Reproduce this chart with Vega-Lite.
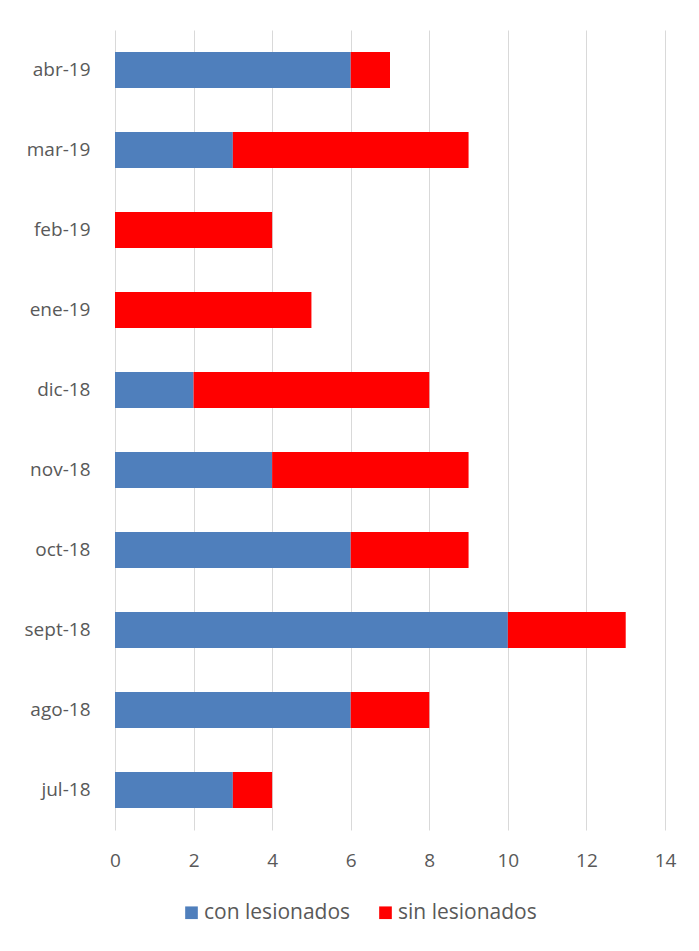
{
  "$schema": "https://vega.github.io/schema/vega-lite/v6.json",
  "autosize": "none",
  "width": 550,
  "height": 800,
  "padding": {"left": 115, "top": 30, "right": 34, "bottom": 121},
  "background": "white",
  "data": {
    "values": [
      {"mes": "abr-19", "tipo": "con lesionados", "n": 6, "o": 1},
      {"mes": "abr-19", "tipo": "sin lesionados", "n": 1, "o": 2},
      {"mes": "mar-19", "tipo": "con lesionados", "n": 3, "o": 1},
      {"mes": "mar-19", "tipo": "sin lesionados", "n": 6, "o": 2},
      {"mes": "feb-19", "tipo": "con lesionados", "n": 0, "o": 1},
      {"mes": "feb-19", "tipo": "sin lesionados", "n": 4, "o": 2},
      {"mes": "ene-19", "tipo": "con lesionados", "n": 0, "o": 1},
      {"mes": "ene-19", "tipo": "sin lesionados", "n": 5, "o": 2},
      {"mes": "dic-18", "tipo": "con lesionados", "n": 2, "o": 1},
      {"mes": "dic-18", "tipo": "sin lesionados", "n": 6, "o": 2},
      {"mes": "nov-18", "tipo": "con lesionados", "n": 4, "o": 1},
      {"mes": "nov-18", "tipo": "sin lesionados", "n": 5, "o": 2},
      {"mes": "oct-18", "tipo": "con lesionados", "n": 6, "o": 1},
      {"mes": "oct-18", "tipo": "sin lesionados", "n": 3, "o": 2},
      {"mes": "sept-18", "tipo": "con lesionados", "n": 10, "o": 1},
      {"mes": "sept-18", "tipo": "sin lesionados", "n": 3, "o": 2},
      {"mes": "ago-18", "tipo": "con lesionados", "n": 6, "o": 1},
      {"mes": "ago-18", "tipo": "sin lesionados", "n": 2, "o": 2},
      {"mes": "jul-18", "tipo": "con lesionados", "n": 3, "o": 1},
      {"mes": "jul-18", "tipo": "sin lesionados", "n": 1, "o": 2}
    ]
  },
  "mark": {"type": "bar"},
  "encoding": {
    "y": {
      "field": "mes",
      "type": "nominal",
      "sort": ["abr-19", "mar-19", "feb-19", "ene-19", "dic-18", "nov-18", "oct-18", "sept-18", "ago-18", "jul-18"],
      "scale": {"paddingInner": 0.55, "paddingOuter": 0.275},
      "axis": {
        "title": null,
        "domain": false,
        "ticks": false,
        "grid": false,
        "labelFont": "Open Sans",
        "labelFontSize": 19,
        "labelColor": "#595959",
        "labelPadding": 25
      }
    },
    "x": {
      "field": "n",
      "type": "quantitative",
      "stack": "zero",
      "scale": {"domain": [0, 14], "nice": false},
      "axis": {
        "title": null,
        "values": [0, 2, 4, 6, 8, 10, 12, 14],
        "domain": false,
        "ticks": false,
        "grid": true,
        "gridColor": "#D9D9D9",
        "gridWidth": 1,
        "labelFlush": false,
        "labelFont": "Open Sans",
        "labelFontSize": 19,
        "labelColor": "#595959",
        "labelPadding": 21
      }
    },
    "color": {
      "field": "tipo",
      "type": "nominal",
      "scale": {"domain": ["con lesionados", "sin lesionados"], "range": ["#4F7FBC", "#FF0000"]},
      "legend": {
        "title": null,
        "orient": "none",
        "direction": "horizontal",
        "legendX": 66,
        "legendY": 872,
        "symbolType": "square",
        "symbolSize": 160,
        "symbolStrokeWidth": 0,
        "labelFont": "Open Sans",
        "labelFontSize": 21,
        "labelColor": "#595959",
        "labelOffset": 2,
        "columnPadding": 24
      }
    },
    "order": {"field": "o", "type": "quantitative"}
  },
  "config": {"view": {"stroke": null}}
}
